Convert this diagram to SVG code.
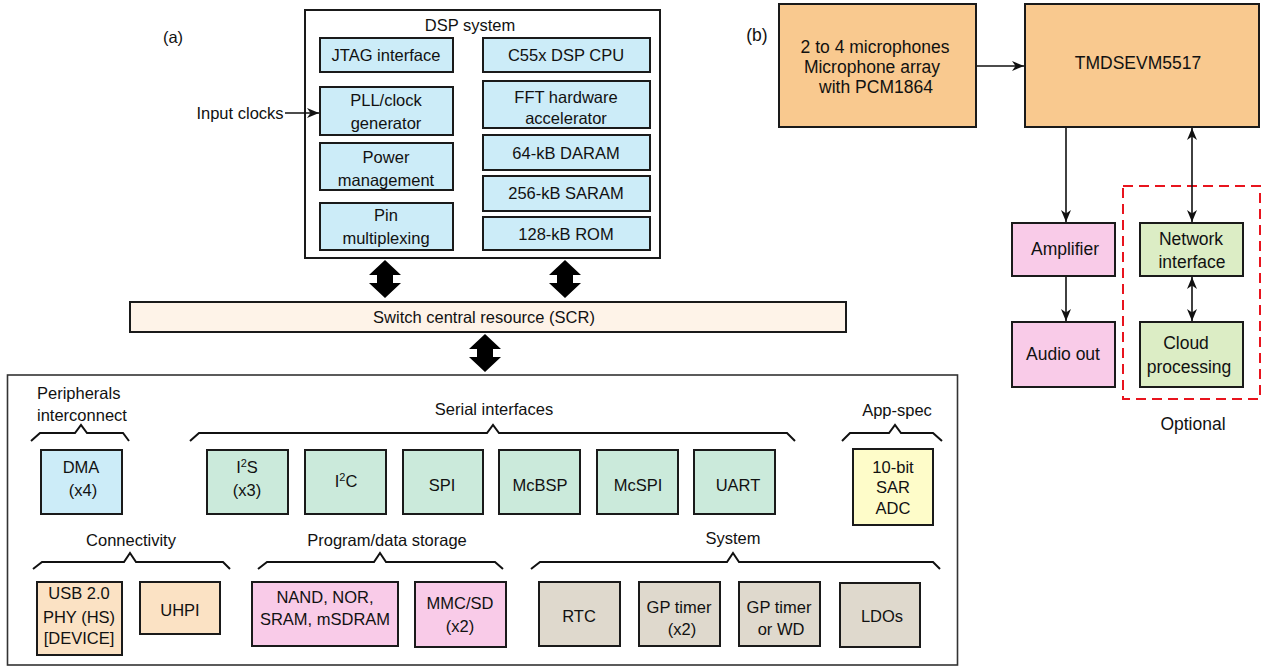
<svg xmlns="http://www.w3.org/2000/svg" width="1268" height="667" viewBox="0 0 1268 667">
  <style>
    text { font-family: "Liberation Sans", Arial, sans-serif; font-size: 16.5px; fill: #111; text-anchor: middle; }
    .b text, text.b { font-size: 17.5px; }
    .box { stroke: #1a1a1a; stroke-width: 2; }
    .blue { fill: #ccecf8; }
    .mint { fill: #cbeadb; }
    .yellow { fill: #fefcc9; }
    .peach { fill: #fbe2c4; }
    .pink { fill: #f9cbe8; }
    .stone { fill: #dfd9cd; }
    .orange { fill: #f9c98f; }
    .green { fill: #dcedc5; }
    .brace { fill: none; stroke: #111; stroke-width: 2; stroke-linejoin: miter; }
    .wire { stroke: #111; stroke-width: 1.6; fill: none; }
    .fat { fill: #000; }
  </style>
  <defs>
    <marker id="head" viewBox="0 0 12 10" refX="12" refY="5" markerWidth="12" markerHeight="10" markerUnits="userSpaceOnUse" orient="auto-start-reverse">
      <path d="M0,0 L12,5 L0,10 L3.5,5 Z" fill="#111"/>
    </marker>
  </defs>

  <rect x="0" y="0" width="1268" height="667" fill="#fff"/>

  <!-- panel labels -->
  <text x="173" y="43">(a)</text>
  <text x="757" y="41" class="b">(b)</text>

  <!-- DSP system -->
  <g id="dsp-system">
    <rect x="305" y="10" width="355" height="248" fill="#fff" class="box"/>
    <text x="470" y="31">DSP system</text>
  </g>
  <g id="jtag">
    <rect x="320" y="38" width="133" height="34" class="box blue"/>
    <text x="386" y="61">JTAG interface</text>
  </g>
  <g id="pll">
    <rect x="320" y="87" width="133" height="48" class="box blue"/>
    <text x="386" y="106">PLL/clock</text>
    <text x="386" y="129">generator</text>
  </g>
  <g id="power">
    <rect x="320" y="143" width="133" height="47" class="box blue"/>
    <text x="386" y="163">Power</text>
    <text x="386" y="186">management</text>
  </g>
  <g id="pinmux">
    <rect x="320" y="203" width="133" height="47" class="box blue"/>
    <text x="386" y="221">Pin</text>
    <text x="386" y="244">multiplexing</text>
  </g>
  <g id="cpu">
    <rect x="483" y="38" width="167" height="34" class="box blue"/>
    <text x="566" y="61">C55x DSP CPU</text>
  </g>
  <g id="fft">
    <rect x="483" y="81" width="167" height="47" class="box blue"/>
    <text x="566" y="103">FFT hardware</text>
    <text x="566" y="124">accelerator</text>
  </g>
  <g id="daram">
    <rect x="483" y="135" width="167" height="35" class="box blue"/>
    <text x="566" y="159">64-kB DARAM</text>
  </g>
  <g id="saram">
    <rect x="483" y="176" width="167" height="35" class="box blue"/>
    <text x="566" y="199">256-kB SARAM</text>
  </g>
  <g id="rom">
    <rect x="483" y="217" width="167" height="33" class="box blue"/>
    <text x="566" y="240">128-kB ROM</text>
  </g>

  <!-- switch central resource -->
  <g id="scr">
    <rect x="130" y="302" width="716" height="30" fill="#fef3e8" class="box"/>
    <text x="484" y="323">Switch central resource (SCR)</text>
  </g>

  <!-- peripheral block -->
  <g id="peripherals">
    <rect x="7.5" y="375" width="950" height="290" fill="#fff" stroke="#333" stroke-width="1.6"/>
    <text x="37" y="399" style="text-anchor:start">Peripherals</text>
    <text x="37" y="421" style="text-anchor:start">interconnect</text>
    <text x="494" y="415">Serial interfaces</text>
    <text x="897" y="416">App-spec</text>
    <text x="131" y="546">Connectivity</text>
    <text x="387" y="546">Program/data storage</text>
    <text x="733" y="544">System</text>
    <polyline class="brace" points="31,441 40,433 75,433 81,425 87,433 123,433 129,441"/>
    <polyline class="brace" points="190,441 199,433 487,433 493,425 499,433 787,433 795,441"/>
    <polyline class="brace" points="842,441 850,433 889,433 895,425 901,433 933,433 942,441"/>
    <polyline class="brace" points="33,569 42,562 124,562 130,553 136,562 223,562 230,569"/>
    <polyline class="brace" points="258,569 267,562 374,562 380,553 386,562 495,562 503,569"/>
    <polyline class="brace" points="531,569 540,562 727,562 733,553 739,562 933,562 940,569"/>
  </g>

  <g id="dma">
    <rect x="41" y="450" width="81" height="64" class="box blue"/>
    <text x="81" y="473">DMA</text>
    <text x="83" y="496">(x4)</text>
  </g>
  <g id="i2s">
    <rect x="207" y="450" width="81" height="64" class="box mint"/>
    <text x="247" y="473">I<tspan baseline-shift="super" font-size="11">2</tspan>S</text>
    <text x="247" y="496">(x3)</text>
  </g>
  <g id="i2c">
    <rect x="305" y="450" width="81" height="64" class="box mint"/>
    <text x="346" y="487">I<tspan baseline-shift="super" font-size="11">2</tspan>C</text>
  </g>
  <g id="spi">
    <rect x="403" y="450" width="80" height="64" class="box mint"/>
    <text x="442" y="491">SPI</text>
  </g>
  <g id="mcbsp">
    <rect x="499" y="450" width="81" height="64" class="box mint"/>
    <text x="540" y="491">McBSP</text>
  </g>
  <g id="mcspi">
    <rect x="597" y="450" width="81" height="64" class="box mint"/>
    <text x="638" y="491">McSPI</text>
  </g>
  <g id="uart">
    <rect x="694" y="450" width="81" height="64" class="box mint"/>
    <text x="738" y="491">UART</text>
  </g>
  <g id="adc">
    <rect x="853" y="449" width="80" height="76" class="box yellow"/>
    <text x="893" y="473">10-bit</text>
    <text x="893" y="493">SAR</text>
    <text x="893" y="514">ADC</text>
  </g>

  <g id="usb">
    <rect x="37" y="582" width="85" height="73" class="box peach"/>
    <text x="79" y="599">USB 2.0</text>
    <text x="79" y="623">PHY (HS)</text>
    <text x="79" y="644">[DEVICE]</text>
  </g>
  <g id="uhpi">
    <rect x="140" y="582" width="80" height="52" class="box peach"/>
    <text x="180" y="616">UHPI</text>
  </g>
  <g id="nand">
    <rect x="252" y="582" width="146" height="64" class="box pink"/>
    <text x="325" y="603">NAND, NOR,</text>
    <text x="325" y="625">SRAM, mSDRAM</text>
  </g>
  <g id="mmc">
    <rect x="415" y="582" width="91" height="65" class="box pink"/>
    <text x="460" y="609">MMC/SD</text>
    <text x="460" y="632">(x2)</text>
  </g>
  <g id="rtc">
    <rect x="539" y="582" width="81" height="64" class="box stone"/>
    <text x="579" y="622">RTC</text>
  </g>
  <g id="gptimer">
    <rect x="639" y="582" width="81" height="64" class="box stone"/>
    <text x="679" y="613">GP timer</text>
    <text x="682" y="635">(x2)</text>
  </g>
  <g id="gptimer-wd">
    <rect x="739" y="582" width="81" height="64" class="box stone"/>
    <text x="779" y="613">GP timer</text>
    <text x="781" y="635">or WD</text>
  </g>
  <g id="ldos">
    <rect x="840" y="583" width="80" height="64" class="box stone"/>
    <text x="882" y="622">LDOs</text>
  </g>

  <!-- panel (b) -->
  <g id="mic-array" class="b">
    <rect x="779" y="4" width="197" height="123" class="box orange"/>
    <text x="875" y="53">2 to 4 microphones</text>
    <text x="872" y="73">Microphone array</text>
    <text x="876" y="93">with PCM1864</text>
  </g>
  <g id="evm" class="b">
    <rect x="1025" y="4" width="234" height="123" class="box orange"/>
    <text x="1138" y="69">TMDSEVM5517</text>
  </g>
  <g id="amplifier" class="b">
    <rect x="1012" y="223" width="103" height="53" class="box pink"/>
    <text x="1065" y="255">Amplifier</text>
  </g>
  <g id="audio-out" class="b">
    <rect x="1012" y="322" width="103" height="65" class="box pink"/>
    <text x="1063" y="360">Audio out</text>
  </g>
  <g id="optional" class="b">
    <rect x="1123" y="186" width="137" height="213" fill="none" stroke="#e8141e" stroke-width="2" stroke-dasharray="10 6"/>
    <text x="1193" y="430">Optional</text>
  </g>
  <g id="network" class="b">
    <rect x="1140" y="223" width="103" height="53" class="box green"/>
    <text x="1191" y="245">Network</text>
    <text x="1192" y="268">interface</text>
  </g>
  <g id="cloud" class="b">
    <rect x="1140" y="322" width="103" height="65" class="box green"/>
    <text x="1186" y="349">Cloud</text>
    <text x="1189" y="373">processing</text>
  </g>

  <!-- connectors -->
  <g id="connectors">
    <text x="240" y="119">Input clocks</text>
    <line class="wire" x1="285" y1="113" x2="319" y2="113" marker-end="url(#head)"/>

    <path class="fat" d="M385,260 L401,275 L393,275 L393,283 L401,283 L385,298 L369,283 L377,283 L377,275 L369,275 Z"/>
    <path class="fat" d="M565,260 L581,275 L573,275 L573,283 L581,283 L565,298 L549,283 L557,283 L557,275 L549,275 Z"/>
    <path class="fat" d="M485,334 L501,349 L493,349 L493,357 L501,357 L485,372 L469,357 L477,357 L477,349 L469,349 Z"/>

    <line class="wire" x1="977" y1="66" x2="1024" y2="66" marker-end="url(#head)"/>
    <line class="wire" x1="1066" y1="128" x2="1066" y2="222" marker-end="url(#head)"/>
    <line class="wire" x1="1066" y1="277" x2="1066" y2="321" marker-end="url(#head)"/>
    <line class="wire" x1="1192" y1="128" x2="1192" y2="222" marker-start="url(#head)" marker-end="url(#head)"/>
    <line class="wire" x1="1192" y1="277" x2="1192" y2="321" marker-start="url(#head)" marker-end="url(#head)"/>
  </g>
</svg>
